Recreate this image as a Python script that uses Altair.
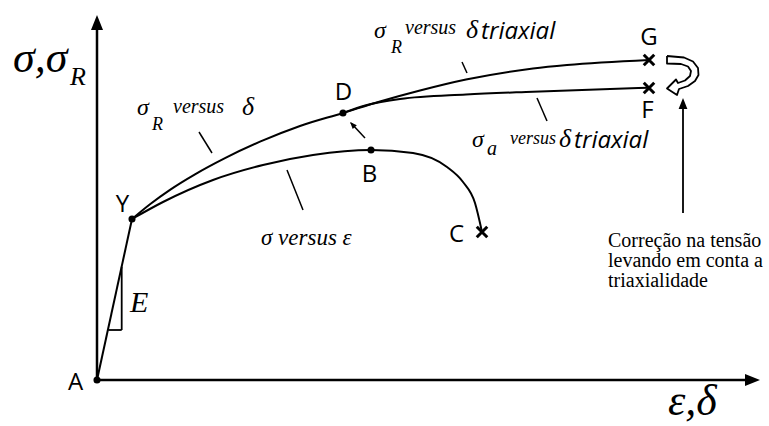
import altair as alt
import pandas as pd

# Diagram units: origin at point A, x = strain/displacement, y = stress
# Elastic branch A -> Y
elastic_x = [0, 35]
elastic_y = [0, 161]

# Engineering curve sigma vs epsilon: Y -> B -> C
eng_x = [35, 66, 116, 166, 216, 274, 316, 350, 366, 378, 385]
eng_y = [161, 178, 200, 215, 225, 230, 227, 213, 198, 177, 148]

# True-stress curve sigma_R vs delta: Y -> D -> G
true_x = [35, 53, 73, 98, 128, 163, 203, 246, 283, 323, 369, 436, 470, 552]
true_y = [161, 175.8, 190.2, 205.7, 221.9, 238.3, 254, 267, 278.5, 289.5, 300.5,
          311.5, 315, 320]

# Corrected curve sigma_a vs delta_triaxial: D -> F
corr_x = [246, 270, 303, 369, 436, 552]
corr_y = [267, 275, 281, 285.5, 288.3, 292.3]

# Straight segments: axes, leader ticks, slope triangle, small arrows
seg_id = ["axv", "axv", "axh", "axh",
          "t1", "t1", "t2", "t2", "t3", "t3", "t4", "t4",
          "triv", "triv", "trih", "trih",
          "bd", "bd", "corr", "corr"]
seg_x = [0, 0, 0, 650,
         102, 115, 190, 206, 365, 370, 440, 450,
         24.7, 24.7, 11.3, 24.7,
         268, 254, 586, 586]
seg_y = [0, 352, 0, 0,
         248, 227, 210, 170, 318, 307, 282, 259,
         113.3, 50, 50, 50,
         242, 257, 167, 276]
seg_w = [2.5, 2.5, 2.5, 2.5,
         1.5, 1.5, 1.5, 1.5, 1.5, 1.5, 1.5, 1.5,
         1.8, 1.8, 1.8, 1.8,
         1.5, 1.5, 1.8, 1.8]

# Hollow curved arrow G -> F (outline)
hollow_x = [570, 587, 596, 601, 601.5, 598, 591, 582, 580, 570,
            579, 581, 588, 593, 594, 591, 584, 570, 570]
hollow_y = [324, 322.5, 318.5, 312, 305, 299, 294, 291, 285, 291.5,
            300.5, 297, 299.5, 304, 309, 313.5, 316, 316.5, 324]

# Points
dot_x = [0, 35, 246, 274]
dot_y = [0, 161, 267, 230]
cross_x = [385, 552, 552]
cross_y = [148, 320, 292]

# Arrowheads: x, y, rotation, size
head_x = [0, 655.5, 255.4, 586]
head_y = [357.5, 0, 255.4, 276.5]
head_angle = [0, 90, 317, 0]
head_size = [225, 225, 49, 121]

# Letters at the key points
pt_text = ["G", "F", "D", "Y", "B", "C", "A"]
pt_x = [552, 550.5, 246.5, 25.5, 272.5, 359.5, -21.5]
pt_y = [335, 262, 280, 168, 198, 138, -10]

# Math labels (serif italic)
math_text = ["σ,σ", "R", "σ", "R", "versus", "δ",
             "σ", "R", "versus", "δ",
             "σ", "a", "versus", "δ",
             "σ versus ε", "ε,δ", "E"]
math_x = [-84, -27, 40, 55, 76, 145,
          277, 294, 308, 369,
          375, 390, 413, 462,
          164, 571, 33]
math_y = [308, 295, 265, 250, 267, 265,
          342, 327, 346, 342,
          233, 225, 236, 233,
          135, -35, 68]
math_size = [44, 26, 24, 18, 20, 26,
             24, 18, 20, 26,
             24, 20, 18, 26,
             23, 44, 30]

# Subscript "triaxial" (sans italic)
tri_x = [384, 477]
tri_y = [341, 232]

# Note on the right
note_lines = ["Correção na tensão", "levando em conta a", "triaxialidade"]
note_x = [511, 511, 511]
note_y = [133, 113, 93]

X = lambda: alt.X("x:Q", scale=alt.Scale(domain=[-97, 672], nice=False, zero=False), axis=None)
Y = lambda: alt.Y("y:Q", scale=alt.Scale(domain=[-46, 380], nice=False, zero=False), axis=None)


def curve(xs, ys, interp):
    df = pd.DataFrame({"x": xs, "y": ys, "o": range(len(xs))})
    return alt.Chart(df).mark_line(color="black", strokeWidth=2, interpolate=interp).encode(
        x=X(), y=Y(), order="o:Q")


elastic = curve(elastic_x, elastic_y, "linear")
eng = curve(eng_x, eng_y, "monotone")
true_c = curve(true_x, true_y, "monotone")
corr_c = curve(corr_x, corr_y, "monotone")

seg_df = pd.DataFrame({"seg": seg_id, "x": seg_x, "y": seg_y, "w": seg_w,
                       "o": range(len(seg_id))})
segments = alt.Chart(seg_df).mark_line(color="black").encode(
    x=X(), y=Y(), detail="seg:N", order="o:Q",
    strokeWidth=alt.StrokeWidth("w:Q", scale=None))

hollow_df = pd.DataFrame({"x": hollow_x, "y": hollow_y, "o": range(len(hollow_x))})
hollow = alt.Chart(hollow_df).mark_line(color="black", strokeWidth=1.8,
                                        strokeJoin="round").encode(
    x=X(), y=Y(), order="o:Q")

dots = alt.Chart(pd.DataFrame({"x": dot_x, "y": dot_y})).mark_point(
    filled=True, color="black", size=50, opacity=1, shape="circle").encode(x=X(), y=Y())

crosses = alt.Chart(pd.DataFrame({"x": cross_x, "y": cross_y})).mark_point(
    shape="M-1,-1L1,1M-1,1L1,-1", filled=False, color="black", strokeWidth=3,
    size=110, opacity=1).encode(x=X(), y=Y())

heads = alt.Chart(pd.DataFrame({"x": head_x, "y": head_y, "a": head_angle,
                                "s": head_size})).mark_point(
    shape="M0,-1L0.8,1L-0.8,1Z", filled=True, color="black", opacity=1).encode(
    x=X(), y=Y(), angle=alt.Angle("a:Q", scale=None), size=alt.Size("s:Q", scale=None))

pt_labels = alt.Chart(pd.DataFrame({"x": pt_x, "y": pt_y, "t": pt_text})).mark_text(
    font="Open Sans", fontSize=24, align="center", baseline="alphabetic",
    color="black").encode(x=X(), y=Y(), text="t:N")

math = alt.Chart(pd.DataFrame({"x": math_x, "y": math_y, "t": math_text,
                               "s": math_size})).mark_text(
    font="Liberation Serif", fontStyle="italic", align="left", baseline="alphabetic",
    color="black").encode(x=X(), y=Y(), text="t:N", size=alt.Size("s:Q", scale=None))

tri = alt.Chart(pd.DataFrame({"x": tri_x, "y": tri_y, "t": ["triaxial"] * 2})).mark_text(
    font="Open Sans", fontStyle="italic", fontSize=24, align="left",
    baseline="alphabetic", color="black").encode(x=X(), y=Y(), text="t:N")

note = alt.Chart(pd.DataFrame({"x": note_x, "y": note_y, "t": note_lines})).mark_text(
    font="Liberation Serif", fontSize=20, align="left", baseline="alphabetic",
    color="black").encode(x=X(), y=Y(), text="t:N")

chart = alt.layer(
    segments, elastic, eng, true_c, corr_c, hollow, heads, crosses, dots,
    pt_labels, math, tri, note
).properties(
    width=769, height=426, padding=0, autosize=alt.AutoSizeParams(type="none"),
    background="white"
).configure_view(stroke=None)

chart.save("out.html", embed_options={"renderer": "svg", "actions": False})
